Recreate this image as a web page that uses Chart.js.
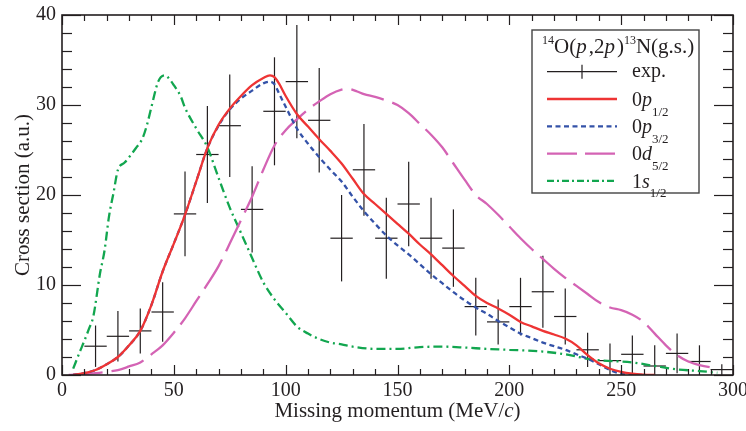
<!DOCTYPE html>
<html>
<head>
<meta charset="utf-8">
<script src="https://cdn.jsdelivr.net/npm/chart.js@4.4.0/dist/chart.umd.min.js"></script>
<style>
html, body { margin: 0; padding: 0; background: #fff; }
#wrap { width: 746px; height: 431px; position: relative; }
</style>
</head>
<body>
<div id="wrap"><canvas id="chart"></canvas></div>
<script>
// experimental points (bin centre, value, error), bins are 10 MeV/c wide
const expMomentum = [15, 25, 35, 45, 55, 65, 75, 85, 95, 105, 115, 125, 135, 145, 155, 165, 175, 185, 195, 205, 215, 225, 235, 245, 255, 265, 275, 285, 295];
const expCross = [3.2, 4.3, 4.9, 7.0, 17.9, 24.5, 27.7, 18.4, 29.3, 32.6, 28.3, 15.2, 22.8, 15.2, 19.0, 15.2, 14.1, 7.6, 5.9, 7.6, 9.25, 6.5, 2.8, 1.6, 2.3, 1.0, 2.4, 1.5, 0.6];
const expError = [2.3, 2.8, 2.5, 3.3, 4.7, 5.4, 5.7, 4.8, 6.0, 6.3, 5.8, 4.8, 5.1, 4.5, 4.7, 4.5, 4.3, 3.2, 2.5, 3.2, 4.0, 3.1, 1.9, 1.9, 2.1, 2.3, 2.2, 1.8, 0.6];
const binHalfWidth = 5;

// calculations
const p12Momentum = [5, 10, 15, 20, 25, 30, 35, 40, 45, 50, 55, 60, 65, 70, 75, 80, 85, 90, 93, 95, 97, 100, 105, 110, 115, 120, 125, 130, 135, 140, 145, 150, 155, 160, 165, 170, 175, 180, 185, 190, 195, 200, 205, 210, 215, 220, 225, 230, 235, 240, 245, 250, 255, 260, 265];
const p12Cross = [0, 0.2, 0.55, 1.2, 2.0, 3.3, 4.9, 7.8, 11.5, 14.6, 17.8, 21.5, 25.2, 27.8, 29.6, 31.0, 32.2, 33.0, 33.3, 33.1, 32.4, 31.0, 29.0, 27.6, 26.2, 24.9, 23.5, 21.8, 20.1, 19.0, 17.9, 16.8, 15.7, 14.5, 13.4, 12.2, 11.0, 9.9, 8.8, 8.0, 7.4, 6.7, 5.9, 5.4, 4.9, 4.5, 4.05, 3.3, 2.2, 1.3, 0.7, 0.35, 0.15, 0.05, 0];

const p32Momentum = [5, 10, 15, 20, 25, 30, 35, 40, 45, 50, 55, 60, 65, 70, 75, 80, 85, 90, 93, 95, 97, 100, 105, 110, 115, 120, 125, 130, 135, 140, 145, 150, 155, 160, 165, 170, 175, 180, 185, 190, 195, 200, 205, 210, 215, 220, 225, 230, 235, 240, 245, 250, 255, 260];
const p32Cross = [0, 0.2, 0.55, 1.2, 2.0, 3.3, 4.9, 7.8, 11.5, 14.6, 17.8, 21.5, 25.2, 27.7, 29.5, 30.7, 31.6, 32.4, 32.6, 32.3, 31.3, 29.8, 27.4, 25.7, 24.2, 22.8, 21.5, 19.8, 18.2, 16.8, 15.5, 14.4, 13.4, 12.3, 11.2, 10.2, 9.2, 8.3, 7.5, 6.8, 6.0, 5.3, 4.6, 4.1, 3.6, 3.2, 2.8, 2.3, 1.8, 1.2, 0.55, 0.15, 0.03, 0];

const d52Momentum = [3, 10, 15, 20, 25, 30, 35, 40, 45, 50, 55, 60, 65, 70, 75, 80, 85, 90, 95, 100, 105, 110, 115, 120, 125, 128, 132, 135, 140, 145, 150, 155, 160, 165, 170, 175, 180, 185, 190, 195, 200, 205, 210, 215, 220, 225, 230, 235, 240, 245, 250, 255, 260, 265, 270, 275, 280, 285, 290, 293];
const d52Cross = [0, 0.1, 0.2, 0.35, 0.55, 0.95, 1.4, 2.3, 3.3, 4.7, 6.3, 8.2, 10.1, 12.1, 14.6, 17.2, 19.8, 22.8, 25.5, 27.2, 28.4, 29.5, 30.4, 31.2, 31.7, 31.8, 31.5, 31.2, 30.9, 30.5, 30.0, 29.1, 27.9, 26.7, 25.3, 23.5, 21.7, 20.0, 19.0, 17.8, 16.5, 15.2, 14.0, 12.9, 11.8, 10.8, 9.9, 9.0, 8.1, 7.5, 7.2, 6.7, 5.9, 4.6, 3.3, 2.2, 1.5, 1.1, 0.85, 0.75];

const s12Momentum = [5, 8, 10, 12, 14, 17, 19, 21, 23, 25, 28, 33, 36, 38, 40, 43, 46, 48, 50, 53, 55, 60, 65, 70, 75, 80, 85, 90, 95, 100, 105, 110, 115, 120, 125, 130, 140, 150, 160, 170, 180, 190, 200, 215, 225, 235, 240, 255, 265, 275, 285, 293];
const s12Cross = [0.7, 2.6, 3.8, 5.1, 6.5, 11.3, 13.8, 17.6, 20.2, 22.8, 23.6, 25.2, 26.3, 27.8, 29.8, 32.6, 33.3, 32.9, 32.2, 31.0, 29.7, 27.4, 25.3, 21.9, 18.6, 15.8, 13.0, 10.3, 8.4, 6.9, 5.4, 4.6, 4.0, 3.6, 3.4, 3.15, 2.9, 2.9, 3.1, 3.15, 3.05, 2.9, 2.8, 2.6, 2.3, 1.8, 1.65, 1.4, 1.0, 0.63, 0.44, 0.25];

const xMin = 0, xMax = 300, xMajor = 50, xMinor = 10;
const yMin = 0, yMax = 40, yMajor = 10, yMinor = 2;

const SERIF = "'Liberation Serif', 'Times New Roman', serif";
const INK = '#231f20';
const RED = '#ee3434', BLUE = '#3452a8', PINK = '#d463b4', GREEN = '#12a64f';

const pts = (xs, ys) => xs.map((x, i) => ({ x: x, y: ys[i] }));

function curve(label, xs, ys, color, dash) {
    return {
        label: label,
        data: pts(xs, ys),
        showLine: true,
        borderColor: color,
        backgroundColor: color,
        borderWidth: 2.3,
        borderDash: dash,
        pointRadius: 0,
        fill: false,
        cubicInterpolationMode: 'monotone'
    };
}

// write text pieces one after another (sub/superscripts, italics)
// piece = [text, style, size, dy, extra space after]
function runs(ctx, x, y, list) {
    for (const r of list) {
        ctx.font = r[1] + ' ' + r[2] + 'px ' + SERIF;
        ctx.fillText(r[0], x, y + r[3]);
        x += ctx.measureText(r[0]).width + (r[4] || 0);
    }
    return x;
}

function seg(ctx, x1, y1, x2, y2) {
    ctx.beginPath();
    ctx.moveTo(x1, y1);
    ctx.lineTo(x2, y2);
    ctx.stroke();
}

const decor = {
    id: 'decor',
    beforeDatasetsDraw(chart) {
        const ctx = chart.ctx, ca = chart.chartArea;
        const sx = chart.scales.x, sy = chart.scales.y;
        ctx.save();
        ctx.beginPath();
        ctx.rect(ca.left, ca.top, ca.right - ca.left, ca.bottom - ca.top);
        ctx.clip();
        ctx.strokeStyle = INK;
        ctx.lineWidth = 1.2;
        expMomentum.forEach((m, i) => {
            const px = sx.getPixelForValue(m);
            const py = sy.getPixelForValue(expCross[i]);
            seg(ctx, px, sy.getPixelForValue(expCross[i] - expError[i]), px, sy.getPixelForValue(expCross[i] + expError[i]));
            seg(ctx, sx.getPixelForValue(m - binHalfWidth), py, sx.getPixelForValue(m + binHalfWidth), py);
        });
        ctx.restore();
    },
    afterDraw(chart) {
        const ctx = chart.ctx, ca = chart.chartArea;
        const sx = chart.scales.x, sy = chart.scales.y;
        ctx.save();
        ctx.strokeStyle = INK;
        ctx.fillStyle = INK;

        // ticks on all four sides, pointing in
        ctx.lineWidth = 1.2;
        for (let v = xMin; v <= xMax; v += xMinor) {
            const px = Math.round(sx.getPixelForValue(v)) + 0.5;
            const len = v % xMajor === 0 ? 10 : 6;
            seg(ctx, px, ca.bottom, px, ca.bottom - len);
            seg(ctx, px, ca.top, px, ca.top + len);
        }
        for (let v = yMin; v <= yMax; v += yMinor) {
            const py = Math.round(sy.getPixelForValue(v)) + 0.5;
            const len = v % yMajor === 0 ? 19 : 10;
            seg(ctx, ca.left, py, ca.left + len, py);
            seg(ctx, ca.right, py, ca.right - len, py);
        }
        ctx.lineWidth = 1.6;
        ctx.strokeRect(ca.left, ca.top, ca.right - ca.left, ca.bottom - ca.top);

        // axis titles
        ctx.textBaseline = 'alphabetic';
        const xt = [['Missing momentum (MeV/', 'normal', 21, 0], ['c', 'italic', 21, 0], [')', 'normal', 21, 0]];
        let w = 0;
        for (const r of xt) { ctx.font = r[1] + ' ' + r[2] + 'px ' + SERIF; w += ctx.measureText(r[0]).width; }
        runs(ctx, (ca.left + ca.right) / 2 - w / 2, 417, xt);

        ctx.save();
        ctx.translate(29, (ca.top + ca.bottom) / 2);
        ctx.rotate(-Math.PI / 2);
        ctx.font = '21px ' + SERIF;
        ctx.textAlign = 'center';
        ctx.fillText('Cross section (a.u.)', 0, 0);
        ctx.restore();

        // legend box
        const bx = ca.right - 201, by = ca.top + 15, bw = 167, bh = 163;
        ctx.fillStyle = '#fff';
        ctx.fillRect(bx, by, bw, bh);
        ctx.fillStyle = INK;
        ctx.strokeStyle = '#444';
        ctx.lineWidth = 1.4;
        ctx.strokeRect(bx, by, bw, bh);

        runs(ctx, bx + 10, by + 23, [
            ['14', 'normal', 12, -9], ['O(', 'normal', 21, 0], ['p', 'italic', 21, 0, 2],
            [',2', 'normal', 21, 0], ['p', 'italic', 21, 0, 2], [')', 'normal', 21, 0],
            ['13', 'normal', 12, -9], ['N(g.s.)', 'normal', 21, 0]
        ]);

        const rows = [
            { y: 41.7, text: [['exp.', 'normal', 20, 5.6]] },
            { y: 69, color: RED, dash: [], text: [['0', 'normal', 20, 6.7], ['p', 'italic', 20, 6.7], ['1/2', 'normal', 13, 16.5]] },
            { y: 96.3, color: BLUE, dash: [5, 3.5], text: [['0', 'normal', 20, 6.7], ['p', 'italic', 20, 6.7], ['3/2', 'normal', 13, 16.5]] },
            { y: 123.6, color: PINK, dash: [30, 8], text: [['0', 'normal', 20, 6.7], ['d', 'italic', 20, 6.7], ['5/2', 'normal', 13, 16.5]] },
            { y: 150.9, color: GREEN, dash: [7, 3, 2, 3], text: [['1', 'normal', 20, 6.7], ['s', 'italic', 20, 6.7], ['1/2', 'normal', 13, 16.5]] }
        ];
        rows.forEach(r => {
            const ly = by + r.y;
            if (r.color) {
                ctx.strokeStyle = r.color;
                ctx.lineWidth = 2.3;
                ctx.setLineDash(r.dash);
                seg(ctx, bx + 15, ly, bx + 85, ly);
                ctx.setLineDash([]);
            } else {
                ctx.strokeStyle = INK;
                ctx.lineWidth = 1.2;
                seg(ctx, bx + 15, ly, bx + 85, ly);
                seg(ctx, bx + 50, ly - 7, bx + 50, ly + 7);
            }
            ctx.fillStyle = INK;
            runs(ctx, bx + 100, ly, r.text);
        });
        ctx.restore();
    }
};

const ctx = document.getElementById('chart').getContext('2d');
const chart = new Chart(ctx, {
    type: 'scatter',
    data: {
        datasets: [
            {
                label: 'exp.',
                data: pts(expMomentum, expCross),
                pointRadius: 0,
                showLine: false
            },
            curve('0p1/2', p12Momentum, p12Cross, RED, []),
            curve('0p3/2', p32Momentum, p32Cross, BLUE, [5, 3.5]),
            curve('0d5/2', d52Momentum, d52Cross, PINK, [34, 9]),
            curve('1s1/2', s12Momentum, s12Cross, GREEN, [9, 4, 2, 4])
        ]
    },
    options: {
        responsive: true,
        maintainAspectRatio: false,
        animation: false,
        layout: { padding: { top: 15, right: 13, left: 0, bottom: 0 } },
        plugins: { legend: { display: false }, tooltip: { enabled: false } },
        scales: {
            x: {
                type: 'linear',
                min: xMin,
                max: xMax,
                grid: { display: false, drawTicks: false },
                border: { display: false },
                ticks: { stepSize: xMajor, padding: 4, color: INK, font: { family: SERIF, size: 20 } },
                afterFit(s) { s.height = 56; s.paddingLeft = 0; s.paddingRight = 0; }
            },
            y: {
                min: yMin,
                max: yMax,
                grid: { display: false, drawTicks: false },
                border: { display: false },
                ticks: { stepSize: yMajor, padding: 6, color: INK, font: { family: SERIF, size: 20 } },
                afterFit(s) { s.width = 62; s.paddingTop = 0; s.paddingBottom = 0; }
            }
        }
    },
    plugins: [decor]
});
</script>
</body>
</html>
